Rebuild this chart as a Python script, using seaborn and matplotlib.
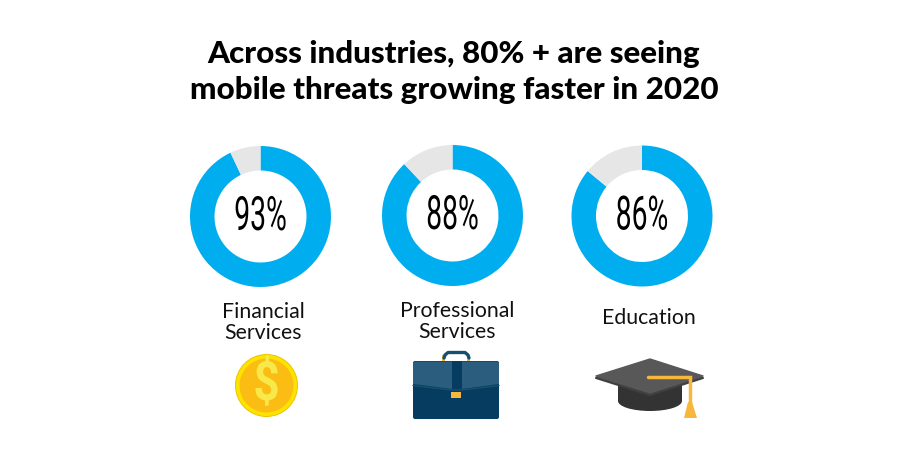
import matplotlib
matplotlib.use("Agg")
import matplotlib.pyplot as plt
import seaborn as sns
from matplotlib.patches import Circle, FancyBboxPatch, Polygon, Ellipse, Rectangle
from matplotlib.patheffects import AbstractPathEffect
from matplotlib.transforms import Affine2D

title_lines = ["Across industries, 80% + are seeing", "mobile threats growing faster in 2020"]
categories = ["Financial\nServices", "Professional\nServices", "Education"]
values = [93, 88, 86]
value_labels = ["93%", "88%", "86%"]
BLUE, GREY = "#00aeef", "#e6e6e6"

sns.set_theme(style="white")
plt.rcParams["font.family"] = ["Lato", "DejaVu Sans"]


class Condense(AbstractPathEffect):
    """Squeeze a text horizontally about a pixel column (still a real text artist)."""
    def __init__(self, cx, sx):
        super().__init__()
        self.cx, self.sx = cx, sx

    def draw_path(self, renderer, gc, tpath, affine, rgbFace=None):
        squeeze = Affine2D().translate(-self.cx, 0).scale(self.sx, 1).translate(self.cx, 0)
        renderer.draw_path(gc, tpath, affine + squeeze, rgbFace)


fig = plt.figure(figsize=(9.2, 4.6), dpi=100, facecolor="white")
ax = fig.add_axes([0, 0, 1, 1])


def Y(y):
    return 460 - y


for i, line in enumerate(title_lines):
    ax.text(454, Y(54.5 + 35.5 * i), line, ha="center", va="center", fontsize=22.6,
            fontweight="black", color="black")

centers = [(260.5, 217.5), (452.5, 216.5), (642, 217)]
label_pos = [(263, 322.5), (457, 321.5), (648.5, 318)]
for c, v, vl, cat, lp in zip(centers, values, value_labels, categories, label_pos):
    ax.pie([v, 100 - v], colors=[BLUE, GREY], startangle=90, counterclock=False,
           center=(c[0], Y(c[1])), radius=70.5, frame=True,
           wedgeprops=dict(width=24.5, linewidth=0))
    ax.text(c[0], Y(c[1] + 0.5), vl, ha="center", va="center", fontsize=34,
            family="Roboto", fontweight="regular", color="black",
            path_effects=[Condense(c[0], 0.6)])
    ax.text(lp[0], Y(lp[1]), cat, ha="center", va="center", fontsize=15.3,
            color="#111111", linespacing=1.08)
ax.set_xlim(0, 920)
ax.set_ylim(0, 460)
ax.set_aspect("equal")
ax.axis("off")

# coin icon
ax.add_patch(Circle((266.5, Y(386.5)), 31.5, fc="#f2c200", ec="none"))
ax.add_patch(Circle((266.5, Y(386.5)), 30.5, fc="#fde400", ec="none"))
ax.add_patch(Circle((266.5, Y(386.5)), 27, fc="#fbbd14", ec="none"))
ax.text(266.5, Y(386.5), "$", ha="center", va="center", fontsize=39, family="Roboto",
        fontweight="bold", color="#f9e84a", path_effects=[Condense(266.5, 0.85)])

# briefcase icon
xs = [444, 445, 448, 465, 468, 469]
ys = [359, 356, 353.5, 353.5, 356, 359]
ax.plot(xs, [Y(y) for y in ys], color="#14506f", lw=2.4, solid_capstyle="round")
ax.add_patch(Rectangle((442.5, Y(362)), 3, 6, fc="#f6b73c", ec="none"))
ax.add_patch(Rectangle((467.5, Y(362)), 3, 6, fc="#f6b73c", ec="none"))
ax.add_patch(FancyBboxPatch((413, Y(420)), 86, 58, boxstyle="round,pad=0,rounding_size=2",
                            fc="#053c60", ec="none"))
ax.add_patch(Polygon([(415, Y(362.5)), (497, Y(362.5)), (499, Y(364)), (499, Y(385)),
                      (462, Y(390)), (452, Y(390)), (413, Y(385)), (413, Y(364))],
                     fc="#2a5d7e", ec="none"))
ax.plot([413, 452, 462, 499], [Y(386.5), Y(391), Y(391), Y(386.5)], color="#17506f", lw=1)
ax.add_patch(Rectangle((452, Y(392)), 10, 30, fc="#053c60", ec="none"))
ax.add_patch(Rectangle((451.5, Y(399)), 10, 6, fc="#f6b73c", ec="none"))

# graduation cap icon
ax.add_patch(Rectangle((618, Y(402)), 64, 22, fc="#333333", ec="none"))
ax.add_patch(Ellipse((650, Y(402)), 64, 20, fc="#333333", ec="none"))
ax.add_patch(Polygon([(596, Y(379)), (650, Y(361)), (703, Y(379)), (650, Y(396))],
                     fc="#404040", ec="#404040", lw=1.5, joinstyle="round"))
ax.add_patch(Polygon([(596, Y(377)), (650, Y(360)), (703, Y(377)), (650, Y(394))],
                     fc="#585858", ec="#585858", lw=1, joinstyle="round"))
ax.plot([648, 690, 690], [Y(377.5), Y(377.5), Y(404)], color="#f6b73c", lw=2.5,
        solid_joinstyle="miter")
ax.add_patch(Polygon([(688, Y(403)), (692, Y(403)), (697, Y(419)), (684, Y(419))],
                     fc="#f6b73c", ec="none"))

fig.savefig("out.png", dpi=100, facecolor="white")
